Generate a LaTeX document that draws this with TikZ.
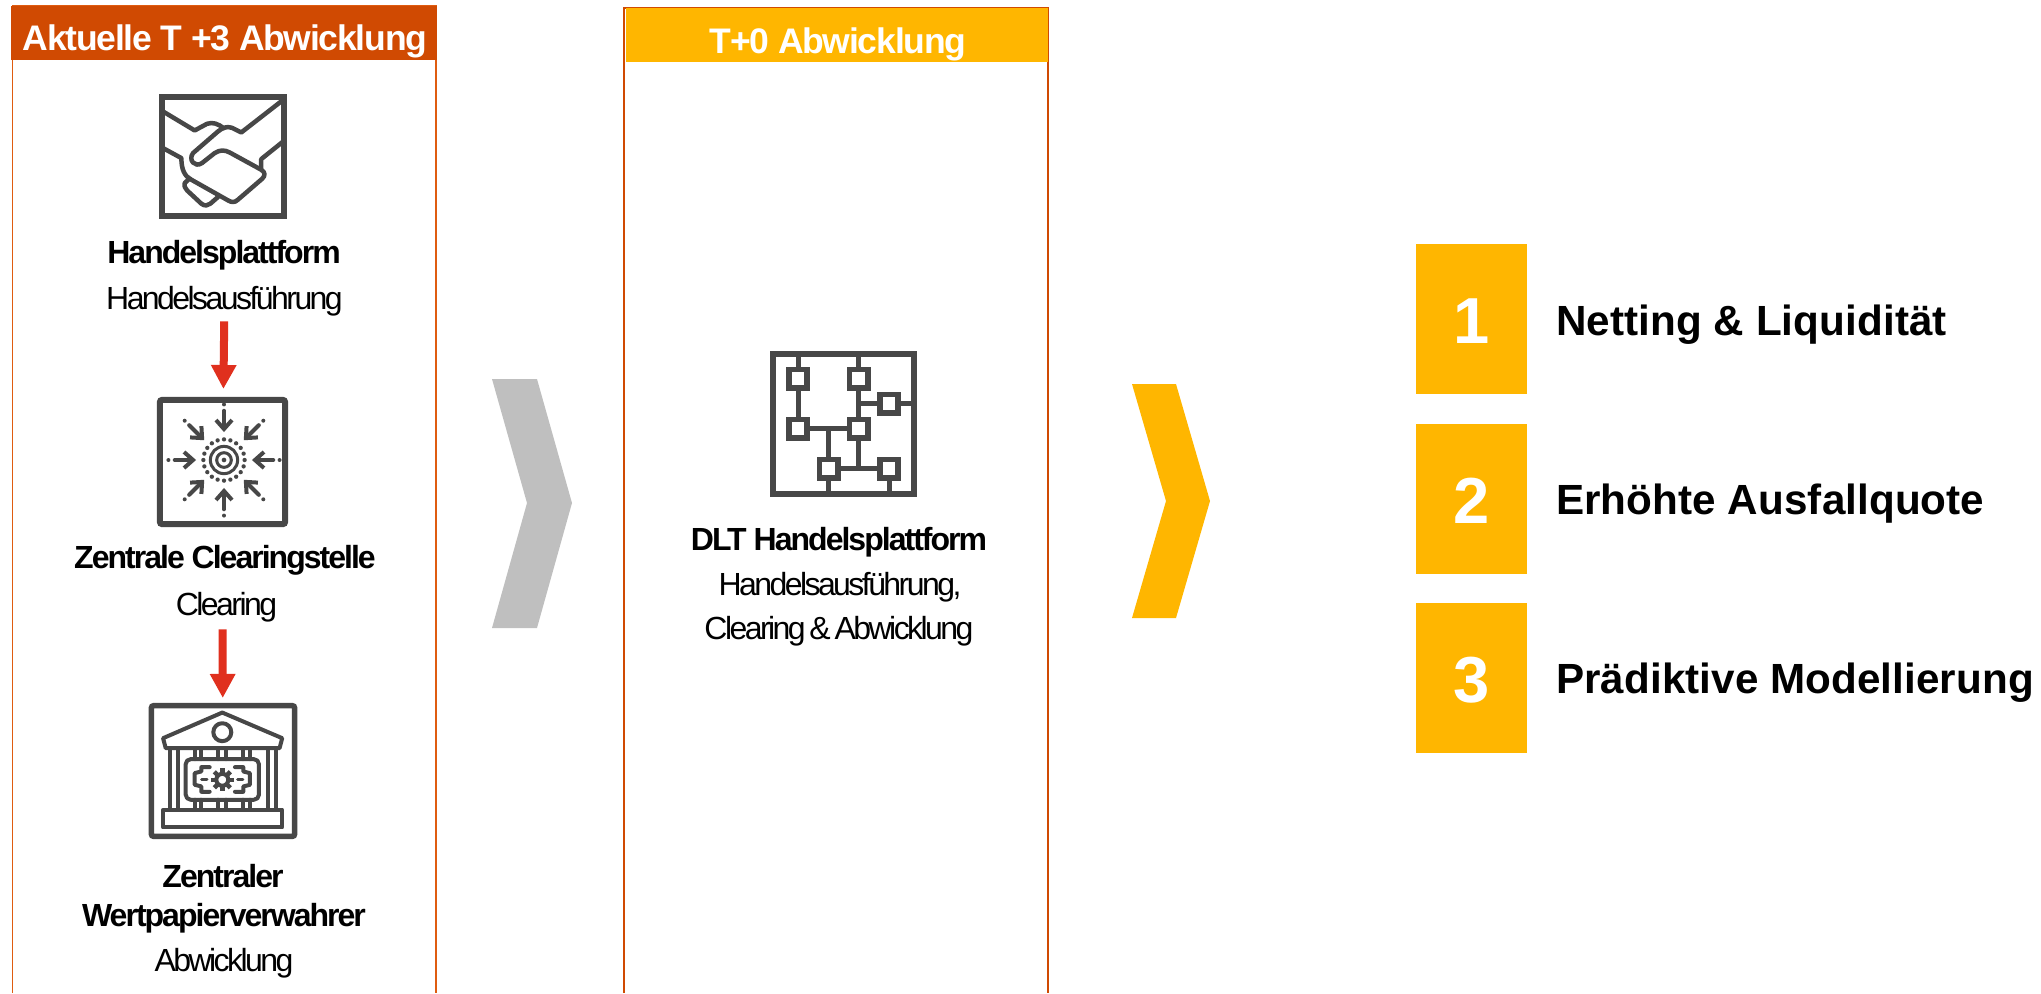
\documentclass[tikz,border=0pt]{standalone}
\usepackage{fontspec}
\usepackage{tikz}
\usetikzlibrary{arrows.meta}
\setmainfont{Liberation Sans}
\newfontfamily\headfont[LetterSpace=-3.5]{Liberation Sans}
\newfontfamily\titlefont[LetterSpace=-6.2]{Liberation Sans}
\newfontfamily\subfont[LetterSpace=-8,WordSpace=0.6]{Liberation Sans}
\newfontfamily\listfont[LetterSpace=0.2]{Liberation Sans}
\definecolor{pwcorange}{HTML}{D04A02}
\definecolor{framecol}{HTML}{DF5C10}
\definecolor{pwcyellow}{HTML}{FFB600}
\definecolor{pwcred}{HTML}{E0301E}
\definecolor{icongray}{HTML}{474747}

\begin{document}
\begin{tikzpicture}[x=0.01cm,y=-0.01cm,
	trans/.style={line width=0.08cm,pwcred,-{Triangle[length=0.24cm,width=0.24cm]}},
	frame/.style={line width=0.015cm,framecol},
	head/.style={inner sep=0,minimum width=4.26cm,minimum height=0.54cm,text=white,font=\headfont\bfseries\fontsize{10.1}{12}\selectfont},
	iconbox/.style={draw=icongray,rectangle,fill=white,inner sep=0},
	title/.style={anchor=base,inner sep=0,font=\titlefont\bfseries\fontsize{9.1}{11}\selectfont},
	sub/.style={anchor=base,inner sep=0,font=\subfont\fontsize{9.1}{11}\selectfont},
	num/.style={fill=pwcyellow,inner sep=0,minimum width=1.11cm,minimum height=1.49cm,text=white,text height=0.90cm,text depth=0.41cm,font=\bfseries\fontsize{18.5}{20}\selectfont},
	item/.style={anchor=base west,inner sep=0,font=\listfont\bfseries\fontsize{12}{14}\selectfont},
	zoomed/.style={x=0.00333cm,y=-0.00333cm},
	line/.style={draw=icongray,line width=0.04cm,line join=round,line cap=round},
	netline/.style={draw=icongray,line width=0.05cm},
	netbox/.style={draw=icongray,rectangle,fill=white,inner sep=0,line width=0.057cm,minimum size=0.183cm}]
\useasboundingbox (0,0) rectangle (2041,993);

% left column
\draw[frame] (12.5,993) -- (12.5,6) -- (436,6) -- (436,993);
\node[head,fill=pwcorange,text height=0.44cm,text depth=0.10cm](H1) at (224,33) {\hspace{0.02cm}Aktuelle T +3 Abwicklung};
\node[iconbox,line width=0.06cm,minimum width=1.22cm,minimum height=1.19cm](A) at (223,156.5) {};
\node[title](A1) at (224,263) {Handelsplattform};
\node[sub](A2) at (224.5,309) {Handelsausführung};
\node[iconbox,line width=0.06cm,rounded corners=0.02cm,minimum width=1.25cm,minimum height=1.24cm](B) at (222.5,462) {};
\node[title](B1) at (225,568) {Zentrale Clearingstelle};
\node[sub](B2) at (226.5,615) {Clearing};
\node[iconbox,line width=0.055cm,rounded corners=0.02cm,minimum width=1.43cm,minimum height=1.305cm](C) at (223,771) {};
\node[title](C1) at (223,887) {Zentraler};
\node[title](C2) at (224,926) {Wertpapierverwahrer};
\node[sub](C3) at (224,971) {Abwicklung};
\draw[trans,shorten <=0.05cm,shorten >=0.08cm] (A2) -- (B);
\draw[trans,shorten <=0.07cm,shorten >=0.05cm] (B2.south -| B) -- (C);

% handshake
\begin{scope}[zoomed]
\draw[line,line width=0.045cm] (490,335) -- (585,392) -- (622,372) .. controls (640,366) and (655,372) .. (672,385);
\draw[line,line width=0.045cm] (851,300) -- (725,398) -- (697,384) .. controls (680,378) and (668,385) .. (655,395) -- (580,460) .. controls (565,480) and (585,505) .. (607,490) -- (645,460) .. controls (660,450) and (675,450) .. (690,458) -- (785,510) .. controls (798,518) and (797,528) .. (788,537) -- (715,600) .. controls (705,610) and (695,608) .. (685,602) -- (575,540) .. controls (555,530) and (545,510) .. (545,475) -- (490,445);
\draw[line,line width=0.045cm] (851,425) -- (785,478) -- (785,510);
\draw[line,line width=0.045cm] (568,538) -- (555,550) .. controls (553,558) and (555,565) .. (562,572) -- (605,612) .. controls (615,620) and (625,618) .. (632,612) -- (655,592);
\end{scope}

% clearing
\begin{scope}[shift={(224,460)},zoomed]
\foreach \a in {0,45,...,315}{
	\fill[icongray] (\a:167) circle (6);
	\draw[line,-{Straight Barb[length=0.09cm,width=0.16cm]}] (\a:148) -- (\a:84);
}
\foreach \a in {0,18,...,342}
	\fill[icongray] (\a:62) circle (6.5);
\draw[line,line width=0.03cm] (0,0) circle (41);
\draw[line,line width=0.03cm] (0,0) circle (22);
\fill[icongray] (0,0) circle (7);
\end{scope}

% bank
\begin{scope}[shift={(0,640)},zoomed]
\foreach \x in {512,535,805,828}
	\draw[line] (\x,325) -- (\x,510);
\foreach \x in {585,605,655,680,730,750}{
	\draw[line] (\x,325) -- (\x,358);
	\draw[line] (\x,480) -- (\x,510);
}
\draw[line] (668,218) -- (848,295) -- (840,325) -- (498,325) -- (490,295) -- cycle;
\draw[line] (668,277) circle (27);
\draw[line,rounded corners=0.05cm] (558,358) rectangle (778,480);
\draw[line] (630,382) -- (605,382) -- (605,395) -- (585,400) -- (585,435) -- (605,440) -- (605,456) -- (630,456);
\draw[line] (706,382) -- (731,382) -- (731,395) -- (751,400) -- (751,435) -- (731,440) -- (731,456) -- (706,456);
\draw[line,line width=0.03cm] (606,418) -- (622,418);
\draw[line,line width=0.03cm] (714,418) -- (730,418);
\draw[line] (668,420) circle (18);
\foreach \a in {0,45,...,315}
	\draw[icongray,line width=0.045cm] ([shift={(\a:18)}]668,420) -- ([shift={(\a:34)}]668,420);
\draw[line] (490,510) rectangle (848,563);
\end{scope}

% middle column
\draw[frame,pwcorange] (624,993) -- (624,8) -- (1048,8) -- (1048,993);
\node[head,fill=pwcyellow,minimum width=4.22cm,text height=0.45cm,text depth=0.09cm](H2) at (837,35) {\hspace{0.02cm}T+0 Abwicklung};
\node[iconbox,line width=0.06cm,minimum width=1.41cm,minimum height=1.40cm](D) at (843.5,424) {};
\node[title](D1) at (839,550) {DLT Handelsplattform};
\node[sub](D2) at (840,595) {Handelsausführung,};
\node[sub](D3) at (839,639) {Clearing \& Abwicklung};

% network
\begin{scope}[shift={(680,330)},zoomed]
\node[netbox](N1) at (355,146) {};
\node[netbox](N2) at (537,146) {};
\node[netbox](N3) at (628,221) {};
\node[netbox](N4) at (355,296) {};
\node[netbox](N5) at (537,296) {};
\node[netbox](N6) at (447,417) {};
\node[netbox](N7) at (628,417) {};
\draw[netline] (N1) -- (N1 |- D.north);
\draw[netline] (N2) -- (N2 |- D.north);
\draw[netline] (N1) -- (N4);
\draw[netline] (N2) -- (N5);
\draw[netline] (N3) -- (N3 -| N2);
\draw[netline] (N3) -- (N3 -| D.east);
\draw[netline] (N4) -- (N5);
\draw[netline] (N6) -- (N6 |- N4);
\draw[netline] (N5) -- (N5 |- N6);
\draw[netline] (N6) -- (N7);
\draw[netline] (N6) -- (N6 |- D.south);
\draw[netline] (N7) -- (N7 |- D.south);
\end{scope}

% chevrons
\fill[black!25] (492,379) -- (537,379) -- (572,503) -- (537,628) -- (492,628) -- (527,503) -- cycle;
\fill[pwcyellow] (1132,384) -- (1176,384) -- (1210,501) -- (1176,618) -- (1132,618) -- (1166,501) -- cycle;

% right list
\node[num](E1) at (1471.5,319) {1};
\node[num](E2) at (1471.5,499) {2};
\node[num](E3) at (1471.5,678) {3};
\node[item](F1) at (1555.5,335) {Netting \& Liquidität};
\node[item](F2) at (1555.5,514) {Erhöhte Ausfallquote};
\node[item](F3) at (1555.5,693) {Prädiktive Modellierung};
\end{tikzpicture}
\end{document}
